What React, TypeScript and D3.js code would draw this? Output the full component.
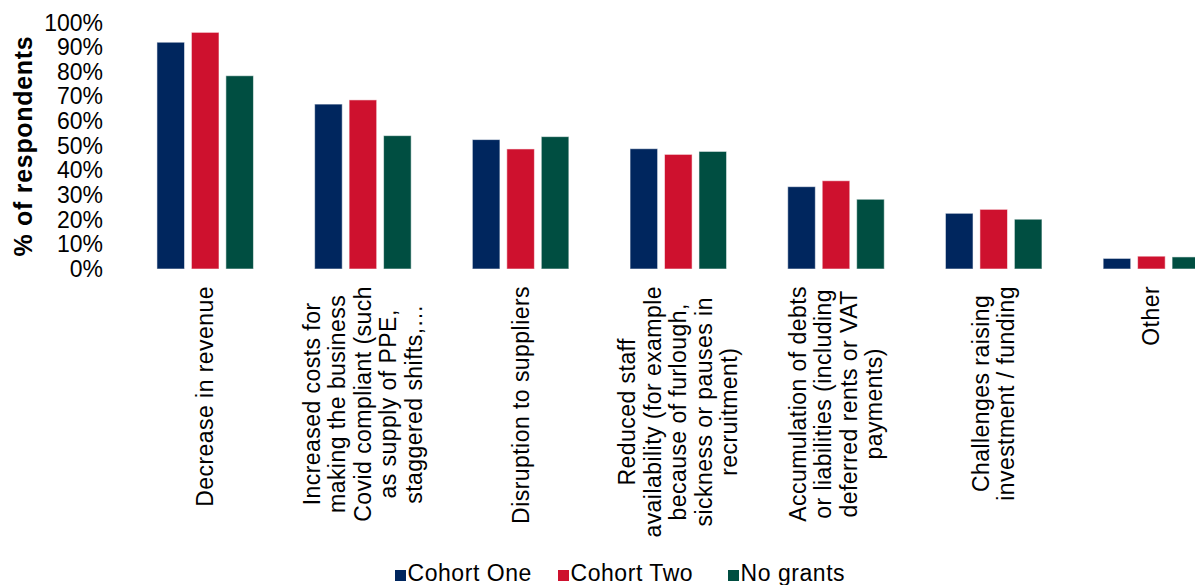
import React, { useEffect, useRef } from "react";
import * as d3 from "d3";

const categories: string[][] = [
  ["Decrease in revenue"],
  ["Increased costs for", "making the business", "Covid compliant (such", "as supply of PPE,", "staggered shifts,\u2026"],
  ["Disruption to suppliers"],
  ["Reduced staff", "availability (for example", "because of furlough,", "sickness or pauses in", "recruitment)"],
  ["Accumulation of debts", "or liabilities (including", "deferred rents or VAT", "payments)"],
  ["Challenges raising", "investment / funding"],
  ["Other"],
];
const seriesNames = ["Cohort One", "Cohort Two", "No grants"];
const cohortOne = [92.0, 66.9, 52.5, 48.8, 33.4, 22.6, 4.3];
const cohortTwo = [96.0, 68.6, 48.7, 46.5, 35.8, 24.2, 5.2];
const noGrants = [78.4, 54.1, 53.7, 47.7, 28.3, 20.2, 4.9];
const yTicks = [0, 10, 20, 30, 40, 50, 60, 70, 80, 90, 100];
const colors = ["#00265E", "#CE112E", "#004E41"];

const W = 1195;
const H = 585;
const FONT = "'Liberation Sans', Arial, sans-serif";

export default function App() {
  const ref = useRef<SVGSVGElement>(null);
  useEffect(() => {
    const svg = d3.select(ref.current);
    svg.selectAll("*").remove();
    const series = [cohortOne, cohortTwo, noGrants];
    const idx = categories.map((_, i) => String(i));
    const x0 = d3.scaleBand<string>().domain(idx).range([126.35, 1230.25]).paddingInner(0.388).paddingOuter(0.194);
    const x1 = d3.scaleBand<string>().domain(seriesNames).range([0, x0.bandwidth()]).paddingInner(0.2).paddingOuter(0);
    const y = d3.scaleLinear().domain([0, 100]).range([269, 22.5]);

    // y ticks
    svg.append("g").selectAll("text").data(yTicks).join("text")
      .attr("x", 103).attr("y", (d) => y(d)).attr("text-anchor", "end")
      .attr("dominant-baseline", "central")
      .attr("font-family", FONT).attr("font-size", 23).attr("fill", "#000")
      .text((d) => `${d}%`);

    // y title
    svg.append("text")
      .attr("transform", `translate(23,146) rotate(-90)`)
      .attr("text-anchor", "middle").attr("dominant-baseline", "central")
      .attr("font-family", FONT).attr("font-size", 25).attr("font-weight", "bold")
      .attr("letter-spacing", 0.7)
      .text("% of respondents");

    // bars
    const groups = svg.append("g").selectAll("g").data(idx).join("g")
      .attr("transform", (d) => `translate(${x0(d)},0)`);
    groups.selectAll("rect").data((d) => series.map((s, si) => ({ name: seriesNames[si], v: s[+d], c: colors[si] })))
      .join("rect")
      .attr("x", (d) => x1(d.name)!)
      .attr("width", x1.bandwidth())
      .attr("y", (d) => y(d.v))
      .attr("height", (d) => y(0) - y(d.v))
      .attr("fill", (d) => d.c)
      .attr("stroke", "rgba(255,255,255,0.55)")
      .attr("stroke-width", 1);

    // category labels
    const lh = 25.5;
    const topY = 286;
    categories.forEach((lines, i) => {
      const cx = x0(String(i))! + x0.bandwidth() / 2;
      const g = svg.append("g");
      const texts = lines.map((ln, li) =>
        g.append("text")
          .attr("text-anchor", "middle").attr("dominant-baseline", "central")
          .attr("font-family", FONT).attr("font-size", 23).attr("fill", "#000")
          .attr("letter-spacing", 0.45)
          .attr("y", (li - (lines.length - 1) / 2) * lh)
          .text(ln)
      );
      const maxW = d3.max(texts, (t) => (t.node() as SVGTextElement).getComputedTextLength()) || 0;
      texts.forEach((t) => t.attr("x", -maxW / 2));
      g.attr("transform", `translate(${cx},${topY}) rotate(-90)`);
    });

    // legend
    const legX = [395, 558, 728];
    const leg = svg.append("g");
    seriesNames.forEach((n, i) => {
      leg.append("rect").attr("x", legX[i]).attr("y", 570).attr("width", 11).attr("height", 11).attr("fill", colors[i]);
      leg.append("text").attr("x", legX[i] + 12.5).attr("y", 581)
        .attr("font-family", FONT).attr("font-size", 23).attr("fill", "#000")
        .attr("letter-spacing", 0.55).text(n);
    });
  }, []);
  return (
    <svg ref={ref} width={W} height={H} style={{ position: "absolute", left: 0, top: 0, background: "#fff" }} />
  );
}
